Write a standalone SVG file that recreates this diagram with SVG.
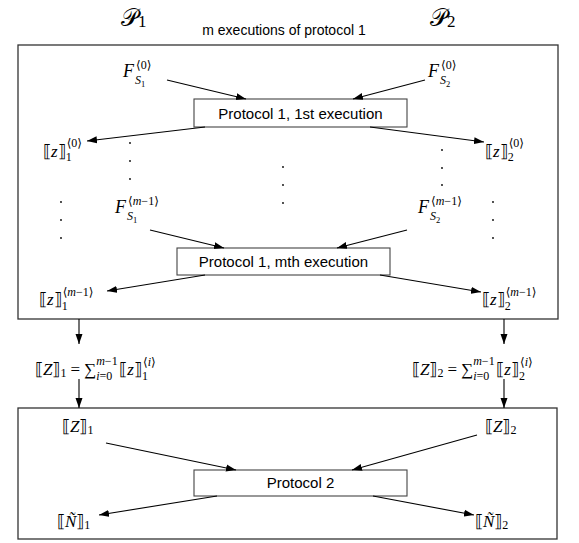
<svg xmlns="http://www.w3.org/2000/svg" width="579" height="543" viewBox="0 0 579 543">
<defs>
<marker id="ah" markerUnits="userSpaceOnUse" markerWidth="10" markerHeight="8" refX="10" refY="4" orient="auto">
<path d="M0,0.5 L10,4 L0,7.5 z" fill="#000"/>
</marker>
<style>
.frame{fill:#fff;stroke:#333;stroke-width:1.3}
.pbox{fill:#fff;stroke:#444;stroke-width:1.1}
.lbl{font-family:"Liberation Sans",Arial,sans-serif;font-size:15px;fill:#000}
.m{font-family:"Liberation Serif","DejaVu Serif",serif;font-size:17px;fill:#000}
.i{font-style:italic}
.s{font-size:12px}
.ss{font-size:8.5px}
.big{font-size:24px}
.conn line{stroke:#000;stroke-width:1.1;marker-end:url(#ah)}
.dot{fill:#000}
</style>
</defs>
<rect width="579" height="543" fill="#fff"/>

<g id="party1">
<text class="m" x="121" y="26"><tspan class="big">𝒫</tspan><tspan dy="1">1</tspan></text>
</g>
<g id="party2">
<text class="m" x="430" y="26"><tspan class="big">𝒫</tspan><tspan dy="1">2</tspan></text>
</g>
<g id="title">
<text class="lbl" x="284" y="35" text-anchor="middle" style="font-size:14px">m executions of protocol 1</text>
</g>

<g id="frame1"><rect class="frame" x="18" y="45" width="540" height="274"/></g>
<g id="frame2"><rect class="frame" x="18" y="408" width="539" height="131"/></g>

<g id="proto1">
<rect class="pbox" x="194" y="99" width="213" height="28"/>
<text class="lbl" x="300.5" y="119" text-anchor="middle">Protocol 1, 1st execution</text>
</g>
<g id="proto1m">
<rect class="pbox" x="177" y="248" width="213" height="27"/>
<text class="lbl" x="283.5" y="267" text-anchor="middle">Protocol 1, mth execution</text>
</g>
<g id="proto2">
<rect class="pbox" x="194" y="470" width="213" height="26"/>
<text class="lbl" x="300.5" y="488" text-anchor="middle">Protocol 2</text>
</g>

<g id="F1_0">
<text class="m" x="123" y="77"><tspan class="i" style="font-size:18px">F</tspan><tspan class="s" dx="2" dy="-8">⟨0⟩</tspan><tspan class="s i" x="135" dy="15">S</tspan><tspan class="ss" dy="3">1</tspan></text>
</g>
<g id="F2_0">
<text class="m" x="428" y="77"><tspan class="i" style="font-size:18px">F</tspan><tspan class="s" dx="2" dy="-8">⟨0⟩</tspan><tspan class="s i" x="440" dy="15">S</tspan><tspan class="ss" dy="3">2</tspan></text>
</g>
<g id="F1_m">
<text class="m" x="115" y="213"><tspan class="i" style="font-size:18px">F</tspan><tspan class="s" dx="2" dy="-8">⟨<tspan class="i">m</tspan>−1⟩</tspan><tspan class="s i" x="127" dy="15">S</tspan><tspan class="ss" dy="3">1</tspan></text>
</g>
<g id="F2_m">
<text class="m" x="418" y="213"><tspan class="i" style="font-size:18px">F</tspan><tspan class="s" dx="2" dy="-8">⟨<tspan class="i">m</tspan>−1⟩</tspan><tspan class="s i" x="430" dy="15">S</tspan><tspan class="ss" dy="3">2</tspan></text>
</g>

<g id="z1_0">
<text class="m" x="43" y="157">⟦<tspan class="i">z</tspan>⟧<tspan class="s" dy="4">1</tspan><tspan class="s" dx="-5" dy="-14">⟨0⟩</tspan></text>
</g>
<g id="z2_0">
<text class="m" x="485" y="157">⟦<tspan class="i">z</tspan>⟧<tspan class="s" dy="4">2</tspan><tspan class="s" dx="-5" dy="-14">⟨0⟩</tspan></text>
</g>
<g id="z1_m">
<text class="m" x="39" y="305">⟦<tspan class="i">z</tspan>⟧<tspan class="s" dy="5">1</tspan><tspan class="s" dx="-5" dy="-14">⟨<tspan class="i">m</tspan>−1⟩</tspan></text>
</g>
<g id="z2_m">
<text class="m" x="482" y="305">⟦<tspan class="i">z</tspan>⟧<tspan class="s" dy="5">2</tspan><tspan class="s" dx="-5" dy="-14">⟨<tspan class="i">m</tspan>−1⟩</tspan></text>
</g>

<g id="dots">
<circle class="dot" cx="130" cy="143" r="0.9"/><circle class="dot" cx="130" cy="161" r="0.9"/><circle class="dot" cx="130" cy="179" r="0.9"/>
<circle class="dot" cx="61" cy="202" r="0.9"/><circle class="dot" cx="61" cy="220" r="0.9"/><circle class="dot" cx="61" cy="238" r="0.9"/>
<circle class="dot" cx="283" cy="167" r="0.9"/><circle class="dot" cx="283" cy="185" r="0.9"/><circle class="dot" cx="283" cy="203" r="0.9"/>
<circle class="dot" cx="442" cy="150" r="0.9"/><circle class="dot" cx="442" cy="168" r="0.9"/><circle class="dot" cx="442" cy="185" r="0.9"/>
<circle class="dot" cx="493" cy="202" r="0.9"/><circle class="dot" cx="493" cy="220" r="0.9"/><circle class="dot" cx="493" cy="238" r="0.9"/>
</g>

<g id="sum1">
<text class="m" x="35" y="375">⟦<tspan class="i">Z</tspan>⟧<tspan class="s" dy="2">1</tspan><tspan dx="4" dy="-2">=</tspan><tspan dx="4">∑</tspan><tspan class="s" dy="-10"><tspan class="i">m</tspan>−1</tspan><tspan class="s" dx="-21.4" dy="15"><tspan class="i">i</tspan>=0</tspan><tspan dx="7" dy="-5">⟦<tspan class="i">z</tspan>⟧</tspan><tspan class="s" dy="5">1</tspan><tspan class="s" dx="-5" dy="-14">⟨<tspan class="i">i</tspan>⟩</tspan></text>
</g>
<g id="sum2">
<text class="m" x="412" y="375">⟦<tspan class="i">Z</tspan>⟧<tspan class="s" dy="2">2</tspan><tspan dx="4" dy="-2">=</tspan><tspan dx="4">∑</tspan><tspan class="s" dy="-10"><tspan class="i">m</tspan>−1</tspan><tspan class="s" dx="-21.4" dy="15"><tspan class="i">i</tspan>=0</tspan><tspan dx="7" dy="-5">⟦<tspan class="i">z</tspan>⟧</tspan><tspan class="s" dy="5">2</tspan><tspan class="s" dx="-5" dy="-14">⟨<tspan class="i">i</tspan>⟩</tspan></text>
</g>

<g id="Z1">
<text class="m" x="62" y="432">⟦<tspan class="i">Z</tspan>⟧<tspan class="s" dy="2">1</tspan></text>
</g>
<g id="Z2">
<text class="m" x="485" y="432">⟦<tspan class="i">Z</tspan>⟧<tspan class="s" dy="2">2</tspan></text>
</g>
<g id="N1">
<text class="m" x="57" y="527">⟦<tspan class="i">Ñ</tspan>⟧<tspan class="s" dy="2">1</tspan></text>
</g>
<g id="N2">
<text class="m" x="475" y="527">⟦<tspan class="i">Ñ</tspan>⟧<tspan class="s" dy="2">2</tspan></text>
</g>

<g id="connectors" class="conn">
<line x1="167" y1="80" x2="246" y2="99"/>
<line x1="425" y1="80" x2="353" y2="99"/>
<line x1="205" y1="127" x2="87" y2="141"/>
<line x1="370" y1="127" x2="484" y2="142"/>
<line x1="150" y1="230" x2="224" y2="248"/>
<line x1="407" y1="230" x2="337" y2="248"/>
<line x1="205" y1="275" x2="107" y2="291"/>
<line x1="380" y1="275" x2="481" y2="292"/>
<line x1="79" y1="319" x2="79" y2="344"/>
<line x1="79" y1="379" x2="79" y2="408"/>
<line x1="504" y1="319" x2="504" y2="344"/>
<line x1="504" y1="379" x2="504" y2="408"/>
<line x1="106" y1="443" x2="236" y2="470"/>
<line x1="477" y1="435" x2="352" y2="470"/>
<line x1="217" y1="496" x2="99" y2="515"/>
<line x1="373" y1="496" x2="474" y2="515"/>
</g>
</svg>
